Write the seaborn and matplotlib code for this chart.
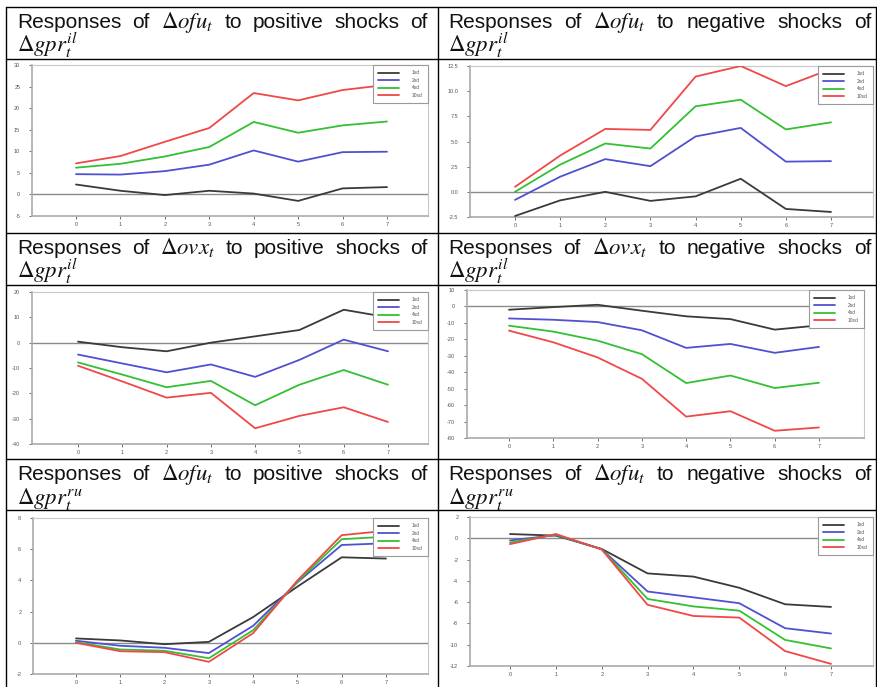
import matplotlib
matplotlib.use("Agg")
import matplotlib.pyplot as plt
from matplotlib.lines import Line2D
import numpy as np
import pandas as pd
import seaborn as sns

# ---------------- data ----------------
horizon = [0, 1, 2, 3, 4, 5, 6, 7]
sd_labels = ["1sd", "2sd", "4sd", "10sd"]
line_colors = ["#3a3a3a", "#5050d0", "#33c033", "#f04848"]

# Panel 1: ofu, positive shocks of gpr^il
p1_1sd = [2.3, 0.85, -0.15, 0.85, 0.2, -1.5, 1.4, 1.7]
p1_2sd = [4.7, 4.6, 5.4, 6.9, 10.2, 7.6, 9.8, 9.9]
p1_4sd = [6.2, 7.1, 8.8, 11.0, 16.8, 14.3, 16.0, 16.9]
p1_10sd = [7.2, 8.9, 12.2, 15.4, 23.5, 21.8, 24.2, 25.4]

# Panel 2: ofu, negative shocks of gpr^il
p2_1sd = [-2.4, -0.85, 0.0, -0.9, -0.45, 1.3, -1.7, -2.0]
p2_2sd = [-0.8, 1.5, 3.25, 2.55, 5.5, 6.35, 3.0, 3.05]
p2_4sd = [0.0, 2.7, 4.8, 4.3, 8.5, 9.15, 6.2, 6.9]
p2_10sd = [0.5, 3.6, 6.25, 6.15, 11.45, 12.5, 10.5, 12.2]

# Panel 3: ovx, positive shocks of gpr^il
p3_1sd = [0.4, -1.8, -3.4, 0.0, 2.5, 5.0, 13.0, 10.0]
p3_2sd = [-4.7, -8.2, -11.7, -8.6, -13.5, -6.8, 1.2, -3.4]
p3_4sd = [-7.8, -12.6, -17.6, -15.1, -24.7, -16.6, -10.8, -16.6]
p3_10sd = [-9.1, -15.3, -21.7, -19.8, -33.8, -28.9, -25.5, -31.3]

# Panel 4: ovx, negative shocks of gpr^il
p4_1sd = [-2.0, -0.4, 1.0, -2.6, -6.0, -7.7, -14.1, -11.5]
p4_2sd = [-7.3, -8.1, -9.5, -14.5, -25.2, -22.8, -28.2, -24.6]
p4_4sd = [-11.7, -15.3, -20.8, -29.0, -46.6, -42.0, -49.6, -46.4]
p4_10sd = [-14.7, -21.8, -31.0, -44.0, -67.0, -63.7, -75.6, -73.6]

# Panel 5: ofu, positive shocks of gpr^ru
p5_1sd = [0.28, 0.15, -0.09, 0.06, 1.65, 3.6, 5.48, 5.4]
p5_2sd = [0.13, -0.19, -0.32, -0.66, 1.09, 3.88, 6.27, 6.38]
p5_4sd = [0.04, -0.43, -0.51, -0.99, 0.81, 3.92, 6.64, 6.8]
p5_10sd = [0.0, -0.54, -0.6, -1.22, 0.62, 4.0, 6.9, 7.18]

# Panel 6: ofu, negative shocks of gpr^ru
p6_1sd = [0.4, 0.25, -1.0, -3.3, -3.6, -4.65, -6.2, -6.45]
p6_2sd = [-0.2, 0.3, -1.03, -5.0, -5.55, -6.1, -8.45, -8.95]
p6_4sd = [-0.4, 0.35, -1.03, -5.7, -6.4, -6.8, -9.55, -10.35]
p6_10sd = [-0.55, 0.4, -1.05, -6.25, -7.3, -7.45, -10.6, -11.8]

title_words = [
    ["Responses", "of", r"$\Delta ofu_t$", "to", "positive", "shocks", "of"],
    ["Responses", "of", r"$\Delta ofu_t$", "to", "negative", "shocks", "of"],
    ["Responses", "of", r"$\Delta ovx_t$", "to", "positive", "shocks", "of"],
    ["Responses", "of", r"$\Delta ovx_t$", "to", "negative", "shocks", "of"],
    ["Responses", "of", r"$\Delta ofu_t$", "to", "positive", "shocks", "of"],
    ["Responses", "of", r"$\Delta ofu_t$", "to", "negative", "shocks", "of"],
]
title_line2 = [
    r"$\Delta gpr_t^{il}$", r"$\Delta gpr_t^{il}$",
    r"$\Delta gpr_t^{il}$", r"$\Delta gpr_t^{il}$",
    r"$\Delta gpr_t^{ru}$", r"$\Delta gpr_t^{ru}$",
]

y_limits = [(-5, 30), (-2.5, 12.5), (-40, 20), (-80, 10), (-2, 8), (-12, 2)]
y_ticks = [
    [-5, 0, 5, 10, 15, 20, 25, 30],
    [-2.5, 0.0, 2.5, 5.0, 7.5, 10.0, 12.5],
    [-40, -30, -20, -10, 0, 10, 20],
    [-80, -70, -60, -50, -40, -30, -20, -10, 0, 10],
    [-2, 0, 2, 4, 6, 8],
    [-12, -10, -8, -6, -4, -2, 0, 2],
]
y_fmt = ["{:.0f}", "{:.1f}", "{:.0f}", "{:.0f}", "{:.0f}", "{:.0f}"]

panels = [
    [p1_1sd, p1_2sd, p1_4sd, p1_10sd],
    [p2_1sd, p2_2sd, p2_4sd, p2_10sd],
    [p3_1sd, p3_2sd, p3_4sd, p3_10sd],
    [p4_1sd, p4_2sd, p4_4sd, p4_10sd],
    [p5_1sd, p5_2sd, p5_4sd, p5_10sd],
    [p6_1sd, p6_2sd, p6_4sd, p6_10sd],
]

# ---------------- layout ----------------
W, H = 878, 687
sns.set_style("white")
plt.rcParams["font.family"] = ["Liberation Sans", "DejaVu Sans"]
plt.rcParams["mathtext.fontset"] = "stix"

fig = plt.figure(figsize=(W / 100, H / 100), dpi=100)
fig.patch.set_facecolor("white")


def fx(px):
    return px / W


def fy(py):
    return 1 - py / H


# axes boxes in pixels: left, top, right, bottom
axes_px = [
    (32, 65, 428, 216),
    (470, 66, 873, 217),
    (32, 292, 428, 444),
    (467, 290, 864, 438),
    (33, 518, 428, 674),
    (470, 517, 873, 666),
]
# x pixel position of horizon 0 and 7 in each panel
x0x7 = [(76, 387), (515, 831), (78, 388), (509, 819), (76, 386), (510, 831)]

# table lines
lw_tab = 1.0
for yy in [7, 59, 233, 285, 459, 510]:
    fig.add_artist(Line2D([fx(6), fx(876)], [fy(yy), fy(yy)], color="black", lw=lw_tab))
for xx in [6, 438, 876]:
    fig.add_artist(Line2D([fx(xx), fx(xx)], [fy(7), fy(687)], color="black", lw=lw_tab))

# ---------------- titles (justified) ----------------
row_tops = [7, 7, 233, 233, 459, 459]
col_text = [(17, 428), (448, 871)] * 3
renderer = fig.canvas.get_renderer()
title_fs = 15
math_fs = 16.5
for i in range(6):
    x_left, x_right = col_text[i]
    base1 = row_tops[i] + 21
    base2 = row_tops[i] + 45
    texts = []
    for w in title_words[i]:
        fs = math_fs if w.startswith("$") else title_fs
        t = fig.text(0, fy(base1), w, fontsize=fs, va="baseline", ha="left", color="#111111")
        texts.append(t)
    widths = [t.get_window_extent(renderer).width for t in texts]
    gap = (x_right - x_left - sum(widths)) / (len(texts) - 1)
    cur = x_left
    for t, wdt in zip(texts, widths):
        t.set_x(fx(cur))
        cur += wdt + gap
    fig.text(fx(x_left), fy(base2), title_line2[i], fontsize=math_fs, va="baseline", ha="left", color="#111111")

# ---------------- plots ----------------
for i in range(6):
    l, t, r, b = axes_px[i]
    ax = fig.add_axes([fx(l), fy(b), fx(r - l), (b - t) / H])
    series = panels[i]
    df = pd.DataFrame({
        "horizon": horizon * 4,
        "response": [v for s in series for v in s],
        "shock": [lab for lab in sd_labels for _ in horizon],
    })
    ax.axhline(0, color="#8a8a8a", lw=1.0, zorder=1)
    sns.lineplot(data=df, x="horizon", y="response", hue="shock", hue_order=sd_labels,
                 palette=line_colors, ax=ax, lw=1.3, zorder=3, legend=True)
    p0, p7 = x0x7[i]
    sc = (p7 - p0) / 7.0
    ax.set_xlim((l - p0) / sc, 7 + (r - p7) / sc)
    ax.set_ylim(*y_limits[i])
    ax.set_xticks(horizon)
    ax.set_xticklabels([str(h) for h in horizon])
    ax.set_yticks(y_ticks[i])
    ax.set_yticklabels([y_fmt[i].format(v) for v in y_ticks[i]])
    ax.set_xlabel("")
    ax.set_ylabel("")
    ax.tick_params(axis="both", labelsize=4, colors="#555555", length=2.5, width=0.6,
                   direction="out")
    ax.tick_params(axis="x", pad=2)
    ax.tick_params(axis="y", pad=6)
    ax.tick_params(axis="both", which="both", left=True, bottom=True)
    for side in ["left", "bottom"]:
        ax.spines[side].set_color("#aaaaaa")
        ax.spines[side].set_linewidth(1.2)
    for side in ["top", "right"]:
        ax.spines[side].set_color("#c8c8c8")
        ax.spines[side].set_linewidth(0.8)
    ax.set_facecolor("white")
    leg = ax.legend(loc="upper right", borderaxespad=0, fontsize=3.5, frameon=True,
                    fancybox=False, handlelength=4.4, handletextpad=2.6, borderpad=1.1,
                    labelspacing=0.5)
    leg.get_frame().set_edgecolor("#9a9a9a")
    leg.get_frame().set_linewidth(0.8)
    leg.get_frame().set_alpha(1.0)
    leg.set_zorder(5)
    for h in leg.legend_handles:
        h.set_linewidth(1.3)
    for txt in leg.get_texts():
        txt.set_color("#555555")

fig.savefig("out.png", dpi=100, facecolor="white")
